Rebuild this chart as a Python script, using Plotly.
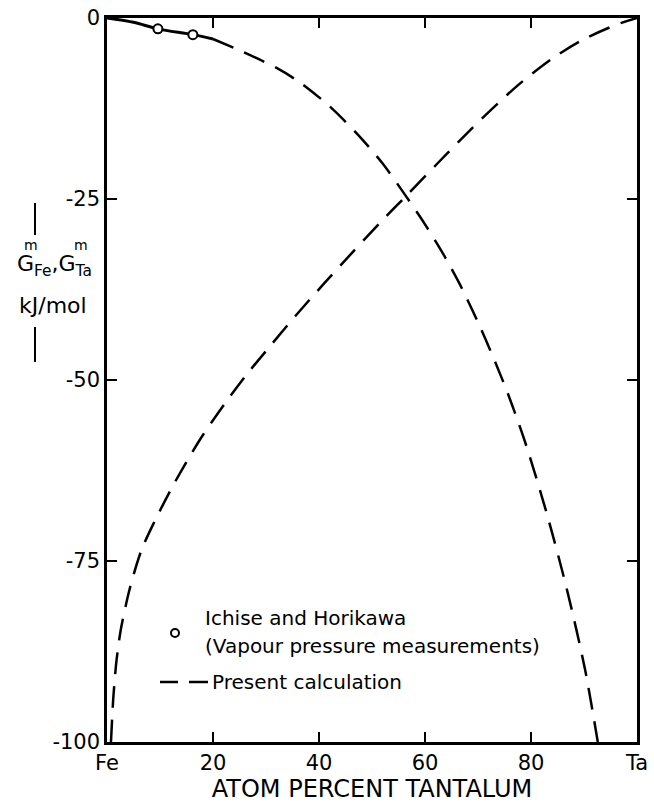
import plotly.graph_objects as go

# ---- data ----
fe_x = [0, 5, 9.6, 16.2, 20, 25.7, 32, 36.4, 42, 47.2, 51.9, 56.4, 60, 63.6, 67, 70.6, 73.4, 75.7, 78.9, 83, 86.8, 90.2, 92.6]
fe_y = [0, -0.6, -1.5, -2.3, -2.9, -4.7, -6.9, -8.9, -12.2, -16.0, -20.0, -24.6, -28.5, -32.8, -37.4, -43.0, -47.8, -52.0, -58.6, -68.5, -79.0, -90.0, -100]

ta_x = [0.75, 1.2, 1.8, 2.6, 4.3, 6.5, 9, 12, 15, 18.1, 22.3, 26.4, 30.8, 35.5, 40.8, 46.4, 51.5, 56.4, 62.2, 66.6, 72.3, 78, 84, 89.8, 96.2, 100]
ta_y = [-100, -93.8, -88.7, -84.5, -78.8, -73.5, -69.5, -65.2, -61.3, -57.6, -53.2, -49.2, -45.3, -41.2, -36.8, -32.3, -28.3, -24.6, -20.2, -16.9, -12.8, -9.0, -5.6, -3.0, -0.9, 0]

exp_x = [9.6, 16.2]
exp_y = [-1.5, -2.3]

x_tickvals = [0, 20, 40, 60, 80, 100]
x_ticktext = ["Fe", "20", "40", "60", "80", "Ta"]
y_tickvals = [0, -25, -50, -75, -100]
y_ticktext = ["0", "-25", "-50", "-75", "-100"]

FONT = "DejaVu Sans"
W, H = 654, 805
L, R, T, B = 107, 17, 18, 63
PW, PH = W - L - R, H - T - B


def px(x):
    return (x - L) / PW


def py(y):
    return (H - B - y) / PH


DASH = "22px,12px"

fig = go.Figure()
n_solid = 5
fig.add_trace(go.Scatter(x=fe_x[:n_solid], y=fe_y[:n_solid], mode="lines",
                         line=dict(color="black", width=3, shape="spline"),
                         showlegend=False, hoverinfo="skip"))
fig.add_trace(go.Scatter(x=fe_x[n_solid - 1:], y=fe_y[n_solid - 1:], mode="lines",
                         line=dict(color="black", width=2.5, dash=DASH, shape="spline", smoothing=0.8),
                         showlegend=False))
fig.add_trace(go.Scatter(x=ta_x, y=ta_y, mode="lines",
                         line=dict(color="black", width=2.5, dash=DASH, shape="spline", smoothing=0.8),
                         showlegend=False))
fig.add_trace(go.Scatter(x=exp_x, y=exp_y, mode="markers",
                         marker=dict(symbol="circle", size=9, color="white",
                                     line=dict(color="black", width=2)),
                         showlegend=False))

annotations = []
shapes = []


def ann(text, x, y, size, xanchor="center"):
    annotations.append(dict(text=text, x=px(x), y=py(y), xref="paper", yref="paper",
                            showarrow=False, font=dict(family=FONT, size=size, color="black"),
                            xanchor=xanchor, yanchor="middle"))


# y-axis title
ann("G<sub>Fe</sub>,G<sub>Ta</sub>", 54, 265, 22)
ann("m", 31, 245, 14)
ann("m", 81, 245, 14)
ann("kJ/mol", 53, 305, 22)
shapes.append(dict(type="line", xref="paper", yref="paper", x0=px(35), x1=px(35), y0=py(203), y1=py(235),
                   line=dict(color="black", width=2)))
shapes.append(dict(type="line", xref="paper", yref="paper", x0=px(35), x1=px(35), y0=py(327), y1=py(362),
                   line=dict(color="black", width=2)))

# legend (drawn by hand)
ann("Ichise and Horikawa", 203, 618, 20, "left")
ann("(Vapour pressure measurements)", 203, 646, 20, "left")
ann("Present calculation", 210, 682, 20, "left")
shapes.append(dict(type="circle", xref="paper", yref="paper", x0=px(171), x1=px(179), y0=py(629), y1=py(637),
                   line=dict(color="black", width=2), fillcolor="white"))
shapes.append(dict(type="line", xref="paper", yref="paper", x0=px(160), x1=px(178), y0=py(682), y1=py(682),
                   line=dict(color="black", width=2.5)))
shapes.append(dict(type="line", xref="paper", yref="paper", x0=px(189), x1=px(208), y0=py(682), y1=py(682),
                   line=dict(color="black", width=2.5)))

fig.update_layout(
    width=W, height=H,
    margin=dict(l=L, r=R, t=T, b=B, autoexpand=False),
    paper_bgcolor="white", plot_bgcolor="white",
    font=dict(family=FONT, color="black"),
    annotations=annotations, shapes=shapes,
    showlegend=False,
)
fig.update_xaxes(range=[0, 100], tickvals=x_tickvals, ticktext=x_ticktext,
                 ticks="inside", ticklen=10, tickwidth=2, tickcolor="black",
                 showline=True, linewidth=2.5, linecolor="black", mirror="ticks",
                 showgrid=False, zeroline=False, automargin=False, ticklabeloverflow="allow",
                 tickfont=dict(family=FONT, size=21, color="black"),
                 title=dict(text="ATOM PERCENT TANTALUM", font=dict(family=FONT, size=24, color="black"),
                            standoff=2))
fig.update_yaxes(range=[-100, 0], tickvals=y_tickvals, ticktext=y_ticktext,
                 ticks="inside", ticklen=10, tickwidth=2, tickcolor="black",
                 showline=True, linewidth=2.5, linecolor="black", mirror="ticks",
                 showgrid=False, zeroline=False, automargin=False, ticklabeloverflow="allow",
                 tickfont=dict(family=FONT, size=21, color="black"))

fig.write_html("out.html", config={"displayModeBar": False},
               post_script="document.body.style.margin='0';document.body.style.overflow='hidden';")
